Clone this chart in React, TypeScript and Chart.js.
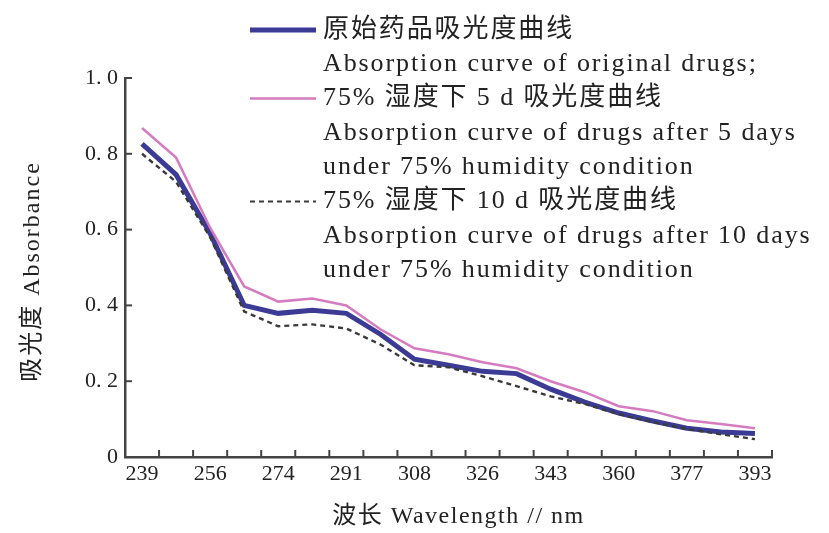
import { useEffect, useRef } from 'react';
import { Chart, registerables } from 'chart.js';

Chart.register(...registerables);

const categories = ['239', '248', '256', '265', '274', '282', '291', '299', '308', '317', '326', '334', '343', '351', '360', '368', '377', '385', '393'];
const originalDrug = [0.826, 0.745, 0.59, 0.4, 0.379, 0.387, 0.379, 0.324, 0.258, 0.242, 0.226, 0.22, 0.179, 0.145, 0.116, 0.095, 0.076, 0.066, 0.062];
const after5Days = [0.868, 0.79, 0.605, 0.45, 0.41, 0.418, 0.4, 0.337, 0.287, 0.271, 0.25, 0.234, 0.2, 0.171, 0.134, 0.121, 0.097, 0.087, 0.076];
const after10Days = [0.8, 0.726, 0.58, 0.384, 0.345, 0.35, 0.339, 0.297, 0.242, 0.237, 0.213, 0.187, 0.16, 0.14, 0.113, 0.092, 0.074, 0.06, 0.047];

const legendLines = [
  '原始药品吸光度曲线',
  'Absorption curve of original drugs;',
  '75% 湿度下 5 d 吸光度曲线',
  'Absorption curve of drugs after 5 days',
  'under 75% humidity condition',
  '75% 湿度下 10 d 吸光度曲线',
  'Absorption curve of drugs after 10 days',
  'under 75% humidity condition',
];
const xTitle = '波长 Wavelength // nm';
const yTitle = '吸光度 Absorbance';

const BLUE = '#3b3b96';
const PINK = '#d47cbf';
const DARK = '#3a3a3a';
const AXIS = '#444444';
const FONT = '"Liberation Serif", "Noto Sans CJK SC", serif';

const decorPlugin = {
  id: 'decor',
  afterDraw(chart: any) {
    const ctx = chart.ctx as CanvasRenderingContext2D;
    const xs = chart.scales.x;
    const ys = chart.scales.y;
    ctx.save();
    // inward tick marks
    ctx.strokeStyle = AXIS;
    ctx.lineWidth = 2;
    const step = (xs.right - xs.left) / categories.length;
    for (let i = 0; i < categories.length; i++) {
      const x = xs.getPixelForValue(i) + step / 2;
      ctx.beginPath();
      ctx.moveTo(x, xs.top);
      ctx.lineTo(x, xs.top - 7);
      ctx.stroke();
    }
    ys.ticks.forEach((t: any) => {
      const y = ys.getPixelForValue(t.value);
      if (t.value === 0) return;
      ctx.beginPath();
      ctx.moveTo(ys.right, y);
      ctx.lineTo(ys.right + 7, y);
      ctx.stroke();
    });

    // axis titles
    (ctx as any).letterSpacing = '1.5px';
    ctx.fillStyle = '#222';
    ctx.font = `24px ${FONT}`;
    ctx.textAlign = 'center';
    ctx.textBaseline = 'middle';
    ctx.fillText(xTitle, (xs.left + xs.right) / 2 + 10, 517);
    ctx.save();
    ctx.translate(33, (ys.top + ys.bottom) / 2 + 4);
    ctx.rotate(-Math.PI / 2);
    (ctx as any).letterSpacing = '2px';
    ctx.fillText(yTitle, 0, 0);
    ctx.restore();

    // legend
    const lineGap = 34.3;
    const y0 = 30;
    const samples: Record<number, { color: string; width: number; dash: number[] }> = {
      0: { color: BLUE, width: 5, dash: [] },
      2: { color: PINK, width: 2.5, dash: [] },
      5: { color: DARK, width: 2.2, dash: [5, 4] },
    };
    (ctx as any).letterSpacing = '1.9px';
    ctx.font = `26px ${FONT}`;
    ctx.textAlign = 'left';
    ctx.textBaseline = 'middle';
    legendLines.forEach((txt, k) => {
      const y = y0 + k * lineGap;
      const s = samples[k];
      if (s) {
        ctx.save();
        ctx.strokeStyle = s.color;
        ctx.lineWidth = s.width;
        ctx.setLineDash(s.dash);
        ctx.beginPath();
        ctx.moveTo(250, y);
        ctx.lineTo(316, y);
        ctx.stroke();
        ctx.restore();
      }
      ctx.fillStyle = '#222';
      ctx.fillText(txt, 323, y);
    });
    (ctx as any).letterSpacing = '0px';
    ctx.restore();
  },
};

export default function App() {
  const ref = useRef<HTMLCanvasElement>(null);
  useEffect(() => {
    if (!ref.current) return;
    const chart = new Chart(ref.current, {
      type: 'line',
      data: {
        labels: categories,
        datasets: [
          { label: legendLines[5], data: after10Days, borderColor: DARK, borderWidth: 2.4, borderDash: [5, 4], pointRadius: 0, tension: 0, fill: false },
          { label: legendLines[2], data: after5Days, borderColor: PINK, borderWidth: 2.5, pointRadius: 0, tension: 0, fill: false },
          { label: legendLines[0], data: originalDrug, borderColor: BLUE, borderWidth: 5, pointRadius: 0, tension: 0, fill: false },
        ],
      },
      options: {
        animation: false,
        responsive: false,
        layout: { padding: { top: 78, right: 57, left: 0, bottom: 0 } },
        plugins: { legend: { display: false }, tooltip: { enabled: false } },
        scales: {
          x: {
            type: 'category',
            offset: true,
            grid: { display: false, drawTicks: false },
            border: { display: true, color: AXIS, width: 2.5 },
            ticks: {
              autoSkip: false,
              maxRotation: 0,
              minRotation: 0,
              padding: 4,
              color: '#222',
              font: { family: FONT, size: 22 },
              callback: (_v: any, i: number) => (i % 2 === 0 ? categories[i] : ''),
            },
            afterFit: (s: any) => { s.height = 76; },
          },
          y: {
            min: 0,
            max: 1,
            grid: { display: false, drawTicks: false },
            border: { display: true, color: AXIS, width: 2.5 },
            ticks: {
              stepSize: 0.2,
              padding: 7,
              color: '#222',
              font: { family: FONT, size: 22 },
              callback: (v: any) => (Number(v) === 0 ? '0' : Number(v).toFixed(1).replace('.', '. ')),
            },
            afterFit: (s: any) => { s.width = 125; },
          },
        },
      },
      plugins: [decorPlugin],
    });
    return () => chart.destroy();
  }, []);
  return (
    <div style={{ position: 'fixed', left: 0, top: 0, width: 829, height: 533, background: '#fff' }}>
      <canvas ref={ref} width={829} height={533} style={{ display: 'block' }} />
    </div>
  );
}
